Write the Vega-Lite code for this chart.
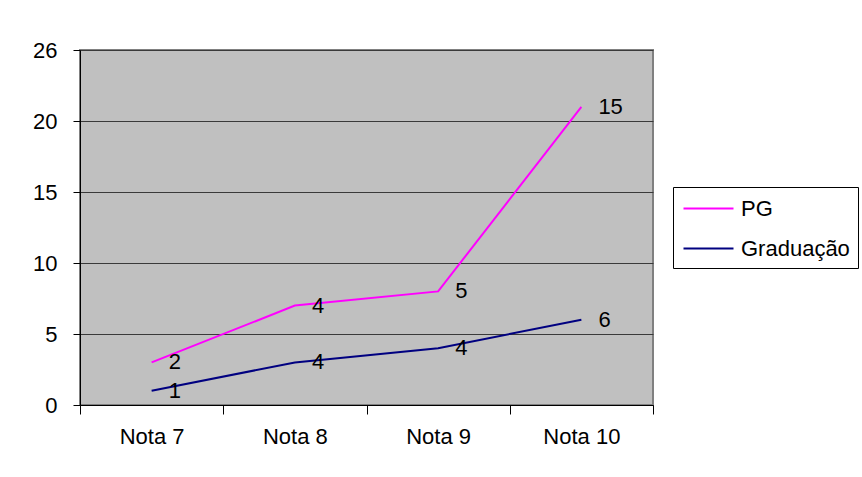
{
  "$schema": "https://vega.github.io/schema/vega-lite/v6.json",
  "width": 573,
  "height": 355,
  "autosize": "none",
  "padding": {"left": 80, "top": 50, "right": 209, "bottom": 72},
  "background": "white",
  "config": {
    "font": "Liberation Sans",
    "view": {"fill": "#C0C0C0", "stroke": "#808080", "strokeWidth": 2}
  },
  "data": {
    "values": [
      {"nota": "Nota 7", "serie": "PG", "valor": 3, "rotulo": "2"},
      {"nota": "Nota 8", "serie": "PG", "valor": 7, "rotulo": "4"},
      {"nota": "Nota 9", "serie": "PG", "valor": 8, "rotulo": "5"},
      {"nota": "Nota 10", "serie": "PG", "valor": 21, "rotulo": "15"},
      {"nota": "Nota 7", "serie": "Graduação", "valor": 1, "rotulo": "1"},
      {"nota": "Nota 8", "serie": "Graduação", "valor": 3, "rotulo": "4"},
      {"nota": "Nota 9", "serie": "Graduação", "valor": 4, "rotulo": "4"},
      {"nota": "Nota 10", "serie": "Graduação", "valor": 6, "rotulo": "6"}
    ]
  },
  "encoding": {
    "x": {
      "field": "nota",
      "type": "nominal",
      "sort": ["Nota 7", "Nota 8", "Nota 9", "Nota 10"],
      "scale": {"paddingInner": 0, "paddingOuter": 0},
      "axis": {
        "title": null,
        "labelAngle": 0,
        "labelFontSize": 22,
        "labelColor": "black",
        "labelPadding": 12,
        "tickBand": "extent",
        "tickColor": "black",
        "tickSize": 9,
        "domainColor": "black",
        "grid": false
      }
    },
    "y": {
      "field": "valor",
      "type": "quantitative",
      "scale": {"domain": [0, 25], "nice": false},
      "axis": {
        "title": null,
        "values": [0, 5, 10, 15, 20, 25],
        "labelExpr": "datum.value == 25 ? '26' : datum.label",
        "labelFontSize": 22,
        "labelColor": "black",
        "labelPadding": 16,
        "tickColor": "black",
        "tickSize": 7,
        "domainColor": "black",
        "grid": true,
        "gridColor": "#3a3a3a",
        "gridOpacity": 1,
        "gridWidth": 1
      }
    }
  },
  "layer": [
    {
      "mark": {"type": "line", "strokeWidth": 2},
      "encoding": {
        "color": {
          "field": "serie",
          "type": "nominal",
          "sort": ["PG", "Graduação"],
          "scale": {"domain": ["PG", "Graduação"], "range": ["#FF00FF", "#000080"]},
          "legend": {
            "title": null,
            "orient": "none",
            "legendX": 593,
            "legendY": 137,
            "symbolType": "M-2,0H2",
            "symbolSize": 625,
            "symbolStrokeWidth": 2,
            "symbolOffset": 14,
            "labelFontSize": 22,
            "labelColor": "black",
            "labelOffset": 19,
            "rowPadding": 15,
            "padding": 8,
            "strokeColor": "black",
            "fillColor": "white",
            "cornerRadius": 0
          }
        }
      }
    },
    {
      "mark": {"type": "text", "align": "left", "baseline": "middle", "dx": 17, "fontSize": 22, "color": "black"},
      "encoding": {"text": {"field": "rotulo"}}
    }
  ]
}
